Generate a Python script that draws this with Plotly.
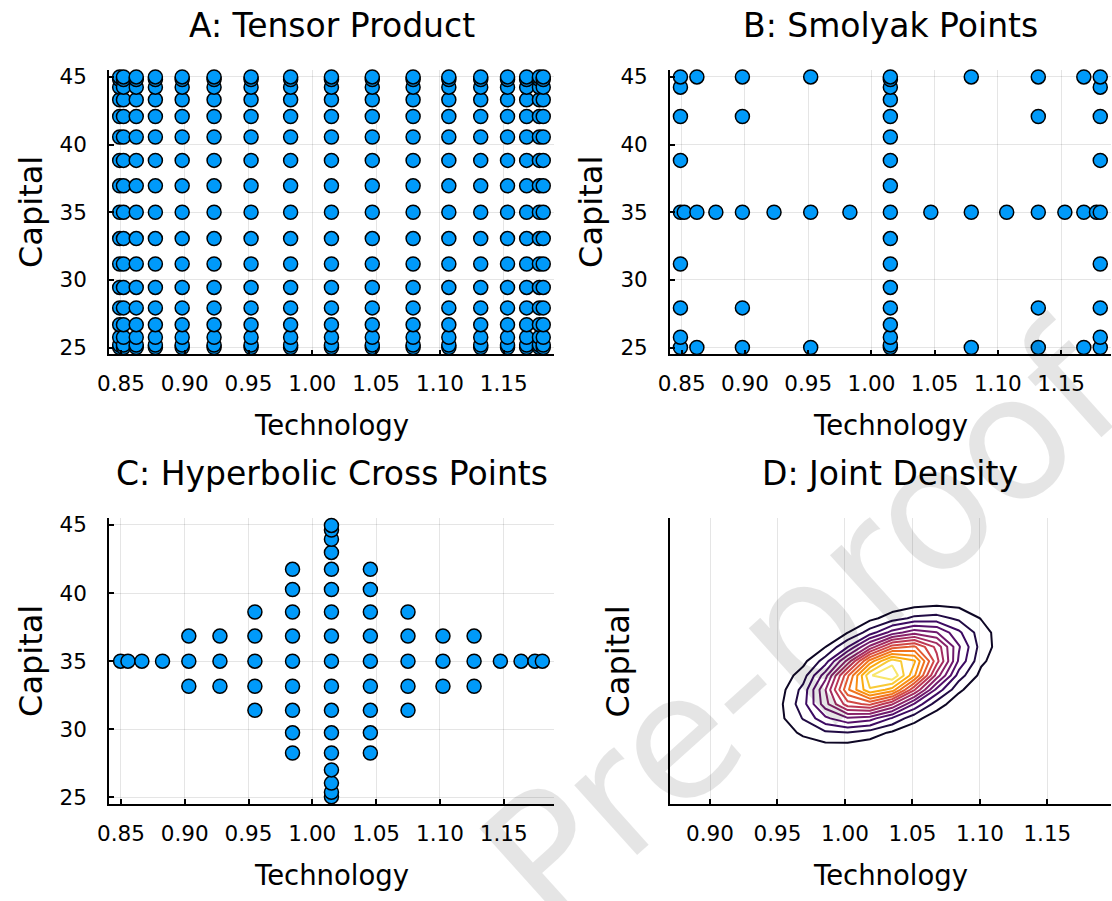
import numpy as np
import plotly.graph_objects as go

# ---------------- data ----------------
# Chebyshev-extrema nodes used by panels A and B
TECH_NODES = [0.849, 0.852, 0.862, 0.877, 0.898, 0.923, 0.952, 0.983, 1.015,
              1.047, 1.079, 1.107, 1.132, 1.153, 1.168, 1.178, 1.181]
CAP_NODES = [25.0, 25.19, 25.76, 26.69, 27.93, 29.44, 31.17, 33.05, 35.0,
             36.95, 38.83, 40.56, 42.07, 43.31, 44.24, 44.81, 45.0]

# Panel B: Smolyak points, column by column (technology -> capital values)
SMOLYAK_COLUMNS = {
    0.849: [25.0, 25.76, 27.93, 31.17, 35.0, 38.83, 42.07, 44.24, 45.0],
    0.852: [35.0],
    0.862: [25.0, 35.0, 45.0],
    0.877: [35.0],
    0.898: [25.0, 27.93, 35.0, 42.07, 45.0],
    0.923: [35.0],
    0.952: [25.0, 35.0, 45.0],
    0.983: [35.0],
    1.015: [25.0, 25.19, 25.76, 26.69, 27.93, 29.44, 31.17, 33.05, 35.0,
            36.95, 38.83, 40.56, 42.07, 43.31, 44.24, 44.81, 45.0],
    1.047: [35.0],
    1.079: [25.0, 35.0, 45.0],
    1.107: [35.0],
    1.132: [25.0, 27.93, 35.0, 42.07, 45.0],
    1.153: [35.0],
    1.168: [25.0, 35.0, 45.0],
    1.178: [35.0],
    1.181: [25.0, 25.76, 27.93, 31.17, 35.0, 38.83, 42.07, 44.24, 45.0],
}

# Panel C: hyperbolic cross points (technology -> capital values)
HYPERBOLIC_COLUMNS = {
    0.8497: [35.0],
    0.8555: [35.0],
    0.8664: [35.0],
    0.8826: [35.0],
    0.9032: [33.16, 35.0, 36.84],
    0.9276: [33.16, 35.0, 36.84],
    0.9550: [31.39, 33.16, 35.0, 36.84, 38.61],
    0.9845: [28.26, 29.74, 31.39, 33.16, 35.0, 36.84, 38.61, 40.26, 41.74],
    1.0150: [25.04, 25.38, 26.05, 27.02, 28.26, 29.74, 31.39, 33.16, 35.0,
             36.84, 38.61, 40.26, 41.74, 42.98, 43.95, 44.62, 44.96],
    1.0455: [28.26, 29.74, 31.39, 33.16, 35.0, 36.84, 38.61, 40.26, 41.74],
    1.0750: [31.39, 33.16, 35.0, 36.84, 38.61],
    1.1024: [33.16, 35.0, 36.84],
    1.1268: [33.16, 35.0, 36.84],
    1.1474: [35.0],
    1.1636: [35.0],
    1.1745: [35.0],
    1.1803: [35.0],
}

DENS_MEAN_TECH = 1.031
DENS_MEAN_CAP = 34.05
DENS_SD_TECH = 0.0324
DENS_SD_CAP = 2.1
DENS_CORR = 0.5
N_LEVELS = 15

TECH_TICKS = [0.85, 0.90, 0.95, 1.00, 1.05, 1.10, 1.15]
TECH_TICKS_D = [0.90, 0.95, 1.00, 1.05, 1.10, 1.15]
CAP_TICKS = [25, 30, 35, 40, 45]

TITLES = ["A: Tensor Product", "B: Smolyak Points",
          "C: Hyperbolic Cross Points", "D: Joint Density"]
XLABEL = "Technology"
YLABEL = "Capital"

# ---------------- layout helpers ----------------
W, H = 1112, 901
FONT = "DejaVu Sans"
MARKER_COLOR = "#009AFA"


def fx(p):
    return p / W


def fy(p):
    return 1 - p / H


# panel boxes in pixels: (left, right, top, bottom)
BOX = {
    1: (98, 548, 65, 353),
    2: (665, 1111, 65, 353),
    3: (98, 548, 519, 809),
    4: (665, 1111, 519, 809),
}

fig = go.Figure()


def scatter(xs, ys, n):
    fig.add_trace(go.Scatter(
        x=xs, y=ys, mode="markers",
        marker=dict(size=14, color=MARKER_COLOR,
                    line=dict(color="black", width=1.5)),
        xaxis="x" if n == 1 else f"x{n}",
        yaxis="y" if n == 1 else f"y{n}",
        showlegend=False, hoverinfo="x+y", cliponaxis=False))


# A: tensor product
ax, ay = [], []
for t in TECH_NODES:
    for c in CAP_NODES:
        ax.append(t)
        ay.append(c)
scatter(ax, ay, 1)

# B: Smolyak
bx, by = [], []
for t, cs in SMOLYAK_COLUMNS.items():
    for c in cs:
        bx.append(t)
        by.append(c)
scatter(bx, by, 2)

# C: hyperbolic cross
cx, cy = [], []
for t, cs in HYPERBOLIC_COLUMNS.items():
    for c in cs:
        cx.append(t)
        cy.append(c)
scatter(cx, cy, 3)

# D: density contour
tg = np.linspace(0.87, 1.20, 21)
cg = np.linspace(24.5, 45.5, 21)
T, C = np.meshgrid(tg, cg)
u = (T - DENS_MEAN_TECH) / DENS_SD_TECH
v = (C - DENS_MEAN_CAP) / DENS_SD_CAP
Z = np.exp(-(u * u - 2 * DENS_CORR * u * v + v * v) / (2 * (1 - DENS_CORR ** 2)))
zmax = float(Z.max())
step = zmax / (N_LEVELS + 1)

INFERNO = [(0.0, (0, 0, 4)), (0.1, (22, 11, 57)), (0.2, (66, 10, 104)),
           (0.3, (106, 23, 110)), (0.4, (147, 38, 103)), (0.5, (188, 55, 84)),
           (0.6, (221, 81, 58)), (0.7, (243, 120, 25)), (0.8, (252, 165, 10)),
           (0.9, (246, 215, 70)), (1.0, (252, 255, 164))]


def inferno(t):
    for (p0, c0), (p1, c1) in zip(INFERNO[:-1], INFERNO[1:]):
        if p0 <= t <= p1:
            f = (t - p0) / (p1 - p0)
            return "rgb(%d,%d,%d)" % tuple(round(a + f * (b - a)) for a, b in zip(c0, c1))
    return "rgb(252,255,164)"


cscale = []
for k in range(N_LEVELS):
    cscale.append([k / (N_LEVELS - 1), inferno((k + 1) / (N_LEVELS + 1))])

fig.add_trace(go.Contour(
    x=tg, y=cg, z=Z,
    contours=dict(coloring="lines", start=step, end=step * N_LEVELS, size=step,
                  showlabels=False),
    colorscale=cscale, showscale=False, line=dict(width=2, smoothing=0),
    xaxis="x4", yaxis="y4", hoverinfo="skip"))

# ---------------- axes ----------------
common_axis = dict(showline=True, linecolor="black", linewidth=1.5,
                   ticks="inside", ticklen=5, tickwidth=1.5, tickcolor="black",
                   showgrid=True, gridcolor="rgba(0,0,0,0.1)", gridwidth=1,
                   zeroline=False, mirror=False,
                   tickfont=dict(family=FONT, size=21.5, color="black"))

layout_axes = {}
for n in range(1, 5):
    l, r, t, b = BOX[n]
    xname = "xaxis" if n == 1 else f"xaxis{n}"
    yname = "yaxis" if n == 1 else f"yaxis{n}"
    xa = dict(common_axis, domain=[fx(l), fx(r)],
              anchor="y" if n == 1 else f"y{n}", ticklabelstandoff=9)
    ya = dict(common_axis, domain=[fy(b), fy(t)],
              anchor="x" if n == 1 else f"x{n}", ticklabelstandoff=16,
              range=[24.5, 45.5], tickvals=CAP_TICKS,
              ticktext=[str(v) for v in CAP_TICKS])
    if n == 4:
        xa.update(range=[0.8702, 1.1972], tickvals=TECH_TICKS_D,
                  ticktext=["%.2f" % v for v in TECH_TICKS_D])
        ya.update(showticklabels=False, ticks="", showgrid=False)
    else:
        xa.update(range=[0.8406, 1.1895], tickvals=TECH_TICKS,
                  ticktext=["%.2f" % v for v in TECH_TICKS])
    layout_axes[xname] = xa
    layout_axes[yname] = ya

# ---------------- text ----------------
ann = []
for n in range(1, 5):
    l, r, t, b = BOX[n]
    cxp = (l + r) / 2
    ann.append(dict(text=TITLES[n - 1], x=fx(cxp), y=fy(t - 45),
                    xref="paper", yref="paper", xanchor="center", yanchor="middle",
                    showarrow=False, font=dict(family=FONT, size=33, color="black")))
    ann.append(dict(text=XLABEL, x=fx(cxp), y=fy(b + 72),
                    xref="paper", yref="paper", xanchor="center", yanchor="middle",
                    showarrow=False, font=dict(family=FONT, size=27.5, color="black")))
    ylx = l - 79 if n != 4 else l - 52
    ann.append(dict(text=YLABEL, x=fx(ylx), y=fy((t + b) / 2),
                    xref="paper", yref="paper", xanchor="center", yanchor="middle",
                    textangle=-90, showarrow=False,
                    font=dict(family=FONT, size=32, color="black")))

# watermark
ann.append(dict(text="Pre-proof", x=fx(800), y=fy(628), xref="paper", yref="paper",
                xanchor="center", yanchor="middle", textangle=-42, showarrow=False,
                font=dict(family=FONT, size=172, color="rgba(0,0,0,0.1)")))

fig.update_layout(width=W, height=H, margin=dict(l=0, r=0, t=0, b=0),
                  paper_bgcolor="white", plot_bgcolor="white",
                  showlegend=False, annotations=ann, **layout_axes)

fig.write_html("out.html",
               config={"displayModeBar": False},
               post_script="document.body.style.margin='0';"
                           "document.body.style.overflow='hidden';")
